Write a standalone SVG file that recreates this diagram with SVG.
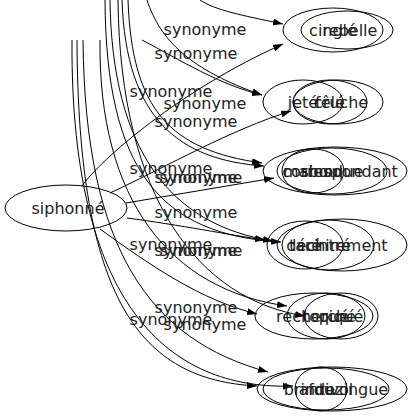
<svg xmlns="http://www.w3.org/2000/svg" width="413" height="419" viewBox="0 0 413 419">
<style>
text{font-family:"DejaVu Sans","Liberation Sans",sans-serif;font-size:16px;fill:#222;text-anchor:middle}
ellipse{fill:none;stroke:#000;stroke-width:1}
.e path{fill:none;stroke:#000;stroke-width:1;marker-end:url(#ah)}
</style>
<defs>
<marker id="ah" viewBox="0 0 10 7" refX="10" refY="3.5" markerWidth="10" markerHeight="7" markerUnits="userSpaceOnUse" orient="auto"><path d="M0,0 L10,3.5 L0,7 z" fill="#000"/></marker>
</defs>
<rect width="413" height="419" fill="#fff"/>
<g class="e" id="edges">
<path d="M200,0 C215,10 240,15 283,24"/>
<path d="M82,186 C100,160 180,90 283,44"/>
<path d="M147,0 C160,40 190,70 262,95"/>
<path d="M142,40 C180,60 220,85 262,95"/>
<path d="M110,193 C170,165 230,130 291,111"/>
<path d="M126,203 L274,178"/>
<path d="M128,0 C132,110 170,150 262,163"/>
<path d="M122,0 C126,120 180,160 264,166"/>
<path d="M127,218 C180,225 230,235 265,240"/>
<path d="M110,0 C112,150 170,225 273,241"/>
<path d="M105,0 C106,170 160,235 281,242"/>
<path d="M100,229 C150,265 200,300 257,314"/>
<path d="M100,40 C98,200 170,290 287,306"/>
<path d="M118,0 C120,200 200,300 305,316"/>
<path d="M83,40 C85,250 150,340 268,372"/>
<path d="M77,40 C78,300 140,380 257,386"/>
<path d="M72,40 C70,320 180,390 293,386"/>
<g id="labels">
<text x="205" y="35">synonyme</text>
<text x="196" y="59">synonyme</text>
<text x="171" y="97">synonyme</text>
<text x="205" y="109">synonyme</text>
<text x="196" y="127">synonyme</text>
<text x="171" y="174">synonyme</text>
<text x="196" y="183">synonyme</text>
<text x="201" y="183">synonyme</text>
<text x="196" y="218">synonyme</text>
<text x="171" y="250">synonyme</text>
<text x="196" y="256">synonyme</text>
<text x="201" y="256">synonyme</text>
<text x="196" y="313">synonyme</text>
<text x="171" y="325">synonyme</text>
<text x="205" y="330">synonyme</text>
</g>
</g>
<g id="siphonne"><ellipse cx="66" cy="208" rx="61" ry="23"/><text x="68" y="214">siphonné</text></g>
<g id="cingle"><ellipse cx="333" cy="30" rx="50" ry="22"/><text x="333" y="36">cinglé</text></g>
<g id="rebelle"><ellipse cx="347" cy="30" rx="46" ry="19"/><text x="350" y="36">rebelle</text></g>
<g id="jete"><ellipse cx="303" cy="102" rx="40" ry="22"/><text x="303" y="108">jeté</text></g>
<g id="fele"><ellipse cx="330" cy="102" rx="37" ry="22"/><text x="330" y="108">fêlé</text></g>
<g id="cruche"><ellipse cx="338" cy="102" rx="45" ry="22"/><text x="341" y="108">cruche</text></g>
<g id="maboul"><ellipse cx="313" cy="171" rx="31" ry="22"/><text x="313" y="177">maboul</text></g>
<g id="sinoque"><ellipse cx="332" cy="171" rx="55" ry="23"/><text x="332" y="177">sinoque</text></g>
<g id="correspondant"><ellipse cx="335" cy="171" rx="72" ry="24"/><text x="340" y="177">correspondant</text></g>
<g id="tare"><ellipse cx="305" cy="245" rx="38" ry="24"/><text x="305" y="251">taré</text></g>
<g id="cintre"><ellipse cx="328" cy="245" rx="46" ry="25"/><text x="328" y="251">cintré</text></g>
<g id="dechirement"><ellipse cx="342" cy="245" rx="65" ry="26"/><text x="337" y="251">déchirement</text></g>
<g id="recherche"><ellipse cx="314" cy="316" rx="59" ry="23"/><text x="316" y="322">recherché</text></g>
<g id="toque"><ellipse cx="326" cy="316" rx="39" ry="23"/><text x="326" y="322">toqué</text></g>
<g id="pique"><ellipse cx="341" cy="316" rx="37" ry="23"/><text x="341" y="322">piqué</text></g>
<g id="brindezingue"><ellipse cx="332" cy="389" rx="75" ry="22"/><text x="336" y="395">brindezingue</text></g>
<g id="antivol"><ellipse cx="326" cy="389" rx="63" ry="21"/><text x="326" y="395">antivol</text></g>
<g id="fou"><ellipse cx="321" cy="389" rx="26" ry="22"/><text x="321" y="395">fou</text></g>
</svg>
